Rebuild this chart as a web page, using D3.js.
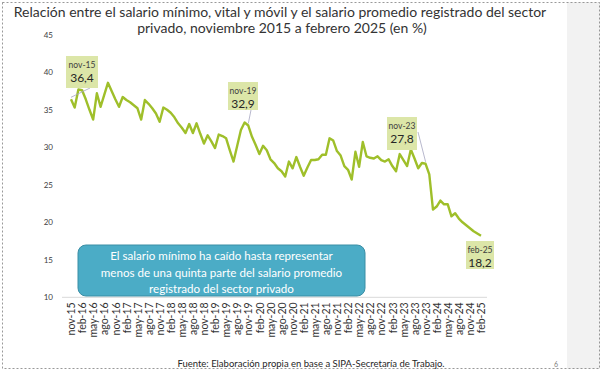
<!DOCTYPE html>
<html>
<head>
<meta charset="utf-8">
<script src="https://cdn.jsdelivr.net/npm/d3@7"></script>
<style>
  body { margin: 0; background: #fff; }
  text { font-family: Lato, "Open Sans", sans-serif; }
</style>
</head>
<body>
<div id="chart"></div>
<script>
const monthNames = ["ene","feb","mar","abr","may","jun","jul","ago","sep","oct","nov","dic"];

// one value per month, nov-15 .. feb-25
const values = [
  36.4, 35.3, 37.7, 37.6, 36.4, 35.0, 33.7, 37.2, 35.4, 37.0, 38.6, 37.5,
  36.4, 35.4, 36.7, 36.3, 36.0, 35.6, 35.2, 33.7, 36.3, 35.8, 35.2, 34.5,
  33.4, 35.3, 35.0, 34.6, 34.0, 33.2, 32.6, 31.9, 33.1, 31.9, 33.2, 31.8,
  30.5, 31.6, 30.8, 29.9, 31.7, 31.5, 31.2, 29.6, 28.1, 30.2, 32.3, 33.3,
  32.9, 31.4, 30.3, 29.1, 30.2, 29.6, 28.4, 27.9, 27.2, 26.8, 26.1, 28.1,
  27.2, 28.7, 27.4, 26.2, 27.3, 28.3, 28.3, 28.4, 29.0, 29.0, 31.2, 30.9,
  29.5, 28.9, 27.5, 27.0, 25.7, 29.4, 27.4, 30.7, 28.8, 28.6, 28.5, 28.8,
  28.3, 28.1, 28.4, 27.5, 26.8, 29.1, 28.3, 27.5, 29.7, 28.5, 27.2, 27.9,
  27.8, 26.4, 21.7, 22.1, 22.9, 22.4, 22.4, 20.8, 21.2, 20.5, 20.0, 19.6,
  19.2, 18.8, 18.5, 18.2
];

const months = values.map((v, i) => {
  const m = (10 + i) % 12;
  const y = 15 + Math.floor((10 + i) / 12);
  return monthNames[m] + "-" + y;
});

const yTicks = [10, 15, 20, 25, 30, 35, 40, 45];

const callouts = [
  {month: "nov-15", label: "36,4", box: [66, 56, 32, 32]},
  {month: "nov-19", label: "32,9", box: [228, 82, 30, 28]},
  {month: "nov-23", label: "27,8", box: [387, 117, 30, 33]},
  {month: "feb-25", label: "18,2", box: [466, 241, 28, 28]}
];

const noteLines = [
  "El salario mínimo ha caído hasta representar",
  "menos de una quinta parte del salario promedio",
  "registrado del sector privado"
];

const W = 603, H = 371;
const svg = d3.select("#chart").append("svg")
  .attr("width", W).attr("height", H);

// right grey panel and dotted frame
svg.append("rect").attr("x", 567).attr("y", 2).attr("width", 33).attr("height", 367)
  .attr("fill", "#f2f2f2");
svg.append("rect").attr("x", 2.5).attr("y", 2.5).attr("width", 597).attr("height", 366)
  .attr("fill", "none").attr("stroke", "#7f7f7f").attr("stroke-width", 0.8)
  .attr("stroke-dasharray", "2,2");

svg.append("text").attr("x", 280).attr("y", 17).attr("text-anchor", "middle")
  .attr("font-size", 14).attr("fill", "#333")
  .text("Relación entre el salario mínimo, vital y móvil y el salario promedio registrado del sector");
svg.append("text").attr("x", 282).attr("y", 33).attr("text-anchor", "middle")
  .attr("font-size", 14).attr("fill", "#333")
  .text("privado, noviembre 2015 a febrero 2025 (en %)");

const x = d3.scalePoint().domain(months).range([71, 481]);
const y = d3.scaleLinear().domain([10, 45]).range([297.3, 34.8]);

// y axis labels
const yAxis = d3.axisLeft(y).tickValues(yTicks).tickSize(0).tickPadding(0);
const gy = svg.append("g").attr("transform", "translate(53,0)").call(yAxis);
gy.select(".domain").remove();
gy.selectAll("text").attr("font-size", 8).attr("fill", "#404040")
  .style("font-family", "Lato, sans-serif");

// baseline
svg.append("line").attr("x1", 62).attr("x2", 487)
  .attr("y1", y(10)).attr("y2", y(10))
  .attr("stroke", "#d9d9d9").attr("stroke-width", 1);

// x axis labels every 3 months
const xAxis = d3.axisBottom(x)
  .tickValues(months.filter((m, i) => i % 3 === 0))
  .tickSize(0).tickPadding(0);
const gx = svg.append("g").attr("transform", `translate(0,${y(10) + 5})`).call(xAxis);
gx.select(".domain").remove();
gx.selectAll("text")
  .attr("font-size", 10.5).attr("fill", "#333")
  .style("font-family", "Lato, sans-serif")
  .attr("text-anchor", "end")
  .attr("transform", "rotate(-90)")
  .attr("dy", "0.35em").attr("x", 0).attr("y", 0);

// the line
const line = d3.line()
  .x((d, i) => x(months[i]))
  .y(d => y(d));
svg.append("path").datum(values)
  .attr("d", line)
  .attr("fill", "none")
  .attr("stroke", "#9fbf2a")
  .attr("stroke-width", 2.4)
  .attr("stroke-linejoin", "round");

// callouts
callouts.forEach(c => {
  const i = months.indexOf(c.month);
  const px = x(c.month), py = y(values[i]);
  const [bx, by, bw, bh] = c.box;
  if (c.month !== "feb-25") {
    const lx = c.month === "nov-23" ? bx + bw + 1 : bx + bw / 2 + 8;
    const ly = c.month === "nov-23" ? by + 15 : by + bh;
    svg.append("line").attr("x1", lx).attr("y1", ly)
      .attr("x2", px).attr("y2", py - 2)
      .attr("stroke", "#a6a6c0").attr("stroke-width", 0.8);
  }
  svg.append("rect").attr("x", bx).attr("y", by).attr("width", bw).attr("height", bh)
    .attr("fill", "#dce6a8");
  svg.append("text").attr("x", bx + bw / 2).attr("y", by + 12)
    .attr("text-anchor", "middle").attr("font-size", 8.5).attr("fill", "#404040")
    .text(c.month);
  svg.append("text").attr("x", bx + bw / 2).attr("y", by + 26)
    .attr("text-anchor", "middle").attr("font-size", 12).attr("fill", "#262626")
    .text(c.label);
});

// note box
svg.append("rect").attr("x", 78).attr("y", 245).attr("width", 287).attr("height", 51)
  .attr("rx", 8).attr("fill", "#4bacc6").attr("stroke", "#3b8ea5").attr("stroke-width", 1);
noteLines.forEach((t, k) => {
  svg.append("text").attr("x", 221.5).attr("y", 260 + k * 16.5)
    .attr("text-anchor", "middle").attr("font-size", 11.6).attr("fill", "#fff")
    .text(t);
});

svg.append("text").attr("x", 311).attr("y", 367).attr("text-anchor", "middle")
  .attr("font-size", 9.5).attr("fill", "#262626")
  .text("Fuente: Elaboración propia en base a SIPA-Secretaría de Trabajo.");
svg.append("text").attr("x", 556).attr("y", 367).attr("text-anchor", "middle")
  .attr("font-size", 7).attr("fill", "#808080").text("6");
</script>
</body>
</html>
